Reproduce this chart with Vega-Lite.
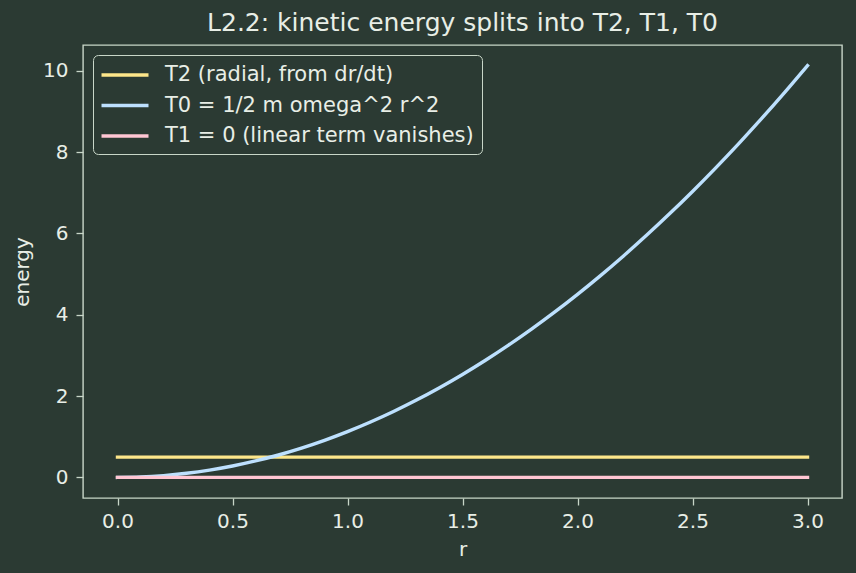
{
  "$schema": "https://vega.github.io/schema/vega-lite/v6.json",
  "width": 759,
  "height": 453,
  "autosize": {"type": "none"},
  "padding": {"left": 83, "top": 45, "right": 14, "bottom": 75},
  "background": "#2b3a33",
  "title": {
    "text": "L2.2: kinetic energy splits into T2, T1, T0",
    "fontSize": 25,
    "font": "DejaVu Sans",
    "fontWeight": "normal",
    "color": "#e8eee6",
    "offset": 9
  },
  "data": {
    "values": [
      {"r": 0.0, "energy": 0.5, "series": "T2 (radial, from dr/dt)"},
      {"r": 3.0, "energy": 0.5, "series": "T2 (radial, from dr/dt)"},
      {"r": 0.0, "energy": 0.0, "series": "T0 = 1/2 m omega^2 r^2"},
      {"r": 0.1, "energy": 0.01125, "series": "T0 = 1/2 m omega^2 r^2"},
      {"r": 0.2, "energy": 0.045, "series": "T0 = 1/2 m omega^2 r^2"},
      {"r": 0.3, "energy": 0.10125, "series": "T0 = 1/2 m omega^2 r^2"},
      {"r": 0.4, "energy": 0.18, "series": "T0 = 1/2 m omega^2 r^2"},
      {"r": 0.5, "energy": 0.28125, "series": "T0 = 1/2 m omega^2 r^2"},
      {"r": 0.6, "energy": 0.405, "series": "T0 = 1/2 m omega^2 r^2"},
      {"r": 0.7, "energy": 0.55125, "series": "T0 = 1/2 m omega^2 r^2"},
      {"r": 0.8, "energy": 0.72, "series": "T0 = 1/2 m omega^2 r^2"},
      {"r": 0.9, "energy": 0.91125, "series": "T0 = 1/2 m omega^2 r^2"},
      {"r": 1.0, "energy": 1.125, "series": "T0 = 1/2 m omega^2 r^2"},
      {"r": 1.1, "energy": 1.36125, "series": "T0 = 1/2 m omega^2 r^2"},
      {"r": 1.2, "energy": 1.62, "series": "T0 = 1/2 m omega^2 r^2"},
      {"r": 1.3, "energy": 1.90125, "series": "T0 = 1/2 m omega^2 r^2"},
      {"r": 1.4, "energy": 2.205, "series": "T0 = 1/2 m omega^2 r^2"},
      {"r": 1.5, "energy": 2.53125, "series": "T0 = 1/2 m omega^2 r^2"},
      {"r": 1.6, "energy": 2.88, "series": "T0 = 1/2 m omega^2 r^2"},
      {"r": 1.7, "energy": 3.25125, "series": "T0 = 1/2 m omega^2 r^2"},
      {"r": 1.8, "energy": 3.645, "series": "T0 = 1/2 m omega^2 r^2"},
      {"r": 1.9, "energy": 4.06125, "series": "T0 = 1/2 m omega^2 r^2"},
      {"r": 2.0, "energy": 4.5, "series": "T0 = 1/2 m omega^2 r^2"},
      {"r": 2.1, "energy": 4.96125, "series": "T0 = 1/2 m omega^2 r^2"},
      {"r": 2.2, "energy": 5.445, "series": "T0 = 1/2 m omega^2 r^2"},
      {"r": 2.3, "energy": 5.95125, "series": "T0 = 1/2 m omega^2 r^2"},
      {"r": 2.4, "energy": 6.48, "series": "T0 = 1/2 m omega^2 r^2"},
      {"r": 2.5, "energy": 7.03125, "series": "T0 = 1/2 m omega^2 r^2"},
      {"r": 2.6, "energy": 7.605, "series": "T0 = 1/2 m omega^2 r^2"},
      {"r": 2.7, "energy": 8.20125, "series": "T0 = 1/2 m omega^2 r^2"},
      {"r": 2.8, "energy": 8.82, "series": "T0 = 1/2 m omega^2 r^2"},
      {"r": 2.9, "energy": 9.46125, "series": "T0 = 1/2 m omega^2 r^2"},
      {"r": 3.0, "energy": 10.125, "series": "T0 = 1/2 m omega^2 r^2"},
      {"r": 0.0, "energy": 0.0, "series": "T1 = 0 (linear term vanishes)"},
      {"r": 3.0, "energy": 0.0, "series": "T1 = 0 (linear term vanishes)"}
    ]
  },
  "mark": {"type": "line", "strokeWidth": 3.4, "strokeCap": "square", "interpolate": "monotone"},
  "encoding": {
    "x": {
      "field": "r",
      "type": "quantitative",
      "title": "r",
      "scale": {"domain": [-0.15, 3.15], "nice": false, "zero": false},
      "axis": {"values": [0, 0.5, 1, 1.5, 2, 2.5, 3], "format": ".1f", "titlePadding": 8}
    },
    "y": {
      "field": "energy",
      "type": "quantitative",
      "title": "energy",
      "scale": {"domain": [-0.506, 10.631], "nice": false, "zero": false},
      "axis": {"values": [0, 2, 4, 6, 8, 10], "format": "d", "titlePadding": 10, "labelPadding": 8}
    },
    "color": {
      "field": "series",
      "type": "nominal",
      "sort": null,
      "scale": {
        "domain": ["T2 (radial, from dr/dt)", "T0 = 1/2 m omega^2 r^2", "T1 = 0 (linear term vanishes)"],
        "range": ["#fde68a", "#bde0fe", "#ffc6d3"]
      },
      "legend": {
        "title": null,
        "orient": "top-left",
        "offset": 10,
        "symbolType": "M-2.35,0H2.35",
        "symbolSize": 400,
        "symbolStrokeWidth": 3.4,
        "symbolOffset": 12,
        "labelOffset": 28,
        "rowPadding": 8.5,
        "padding": 8,
        "strokeColor": "#c8d6c8",
        "fillColor": "#2b3a33",
        "cornerRadius": 5,
        "labelFontSize": 21,
        "labelFont": "DejaVu Sans",
        "labelColor": "#e8eee6",
        "labelLimit": 400
      }
    }
  },
  "config": {
    "font": "DejaVu Sans",
    "view": {"stroke": "#c8d6c8", "strokeWidth": 1.4},
    "axis": {
      "domain": false,
      "grid": false,
      "labelFont": "DejaVu Sans",
      "labelFontSize": 20,
      "labelColor": "#e8eee6",
      "labelPadding": 6,
      "tickColor": "#c8d6c8",
      "tickSize": 7,
      "tickWidth": 1.3,
      "titleFont": "DejaVu Sans",
      "titleFontSize": 20,
      "titleFontWeight": "normal",
      "titleColor": "#e8eee6"
    }
  }
}
